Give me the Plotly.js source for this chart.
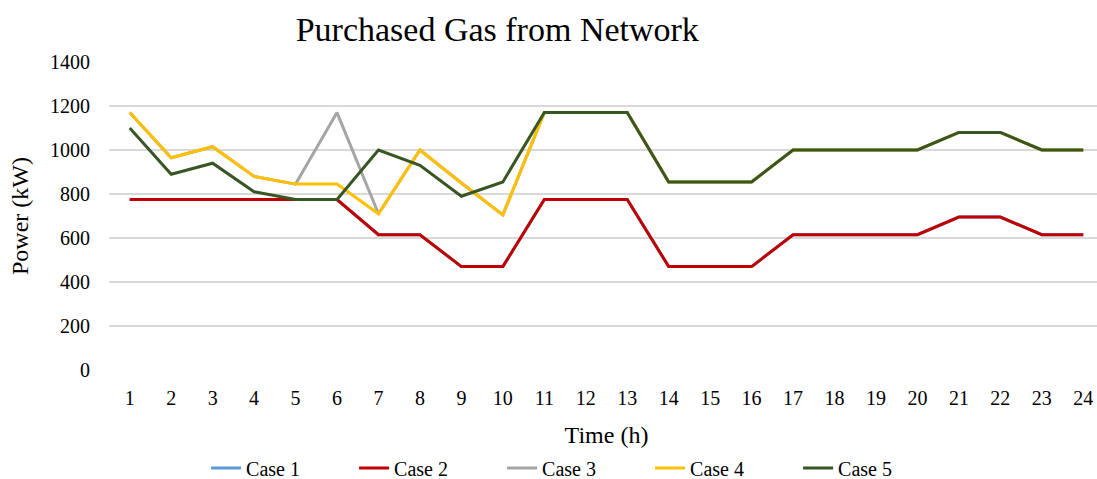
<!DOCTYPE html>
<html>
<head>
<meta charset="utf-8">
<script src="https://cdn.plot.ly/plotly-3.0.1.min.js"></script>
<style>
html,body{margin:0;padding:0;overflow:hidden;background:#fff;}
#chart{width:1110px;height:479px;}
</style>
</head>
<body>
<div id="chart"></div>
<script>
const hours = [1,2,3,4,5,6,7,8,9,10,11,12,13,14,15,16,17,18,19,20,21,22,23,24];
const seriesNames = ["Case 1","Case 2","Case 3","Case 4","Case 5"];
const seriesColors = ["#5B9BD5","#C00000","#A5A5A5","#FFC000","#375623"];
const case1 = [775,775,775,775,775,775,615,615,470,470,775,775,775,470,470,470,615,615,615,615,695,695,615,615];
const case2 = [775,775,775,775,775,775,615,615,470,470,775,775,775,470,470,470,615,615,615,615,695,695,615,615];
const case3 = [1170,965,1015,880,845,1170,710,1000,850,705,1170,1170,1170,855,855,855,1000,1000,1000,1000,1080,1080,1000,1000];
const case4 = [1170,965,1015,880,845,845,710,1000,850,705,1170,1170,1170,855,855,855,1000,1000,1000,1000,1080,1080,1000,1000];
const case5 = [1100,890,940,810,775,775,1000,930,790,855,1170,1170,1170,855,855,855,1000,1000,1000,1000,1080,1080,1000,1000];
const yTicks = [0,200,400,600,800,1000,1200,1400];

const allSeries = [case1,case2,case3,case4,case5];
const traces = allSeries.map((vals,i)=>({
  x: hours, y: vals, type:'scatter', mode:'lines', name: seriesNames[i],
  line:{color: seriesColors[i], width:3}
}));

const serif = "Liberation Serif, Times New Roman, serif";
const layout = {
  width:1110, height:479,
  margin:{l:109, r:6, t:62, b:109},
  paper_bgcolor:'#fff', plot_bgcolor:'#fff',
  font:{family:serif, color:'#000'},
  title:{text:'Purchased Gas from Network', font:{family:serif, size:34, color:'#000'},
         x:0.448, xref:'container', xanchor:'center', y:0.94, yref:'container', yanchor:'middle'},
  xaxis:{range:[0.5,24.5], tickvals:hours, ticktext:hours.map(String),
         showgrid:false, zeroline:false, showline:false, ticks:'',
         ticklabelstandoff:14, tickfont:{family:serif, size:20, color:'#000'},
         title:{text:'Time (h)', font:{family:serif, size:24, color:'#000'}, standoff:20}},
  yaxis:{range:[0,1400], tickvals:yTicks, showgrid:true, gridcolor:'#D9D9D9', gridwidth:1.5,
         zeroline:false, showline:false, ticks:'', ticklabelstandoff:18,
         tickfont:{family:serif, size:20, color:'#000'},
         title:{text:'Power (kW)', font:{family:serif, size:24, color:'#000'}, standoff:14}},
  showlegend:true,
  legend:{orientation:'h', xref:'container', yref:'container', x:0.519, xanchor:'center',
          y:0.023, yanchor:'middle', font:{family:serif, size:20, color:'#000'},
          entrywidth:103, entrywidthmode:'pixels', bgcolor:'rgba(0,0,0,0)'}
};
Plotly.newPlot('chart', traces, layout, {displayModeBar:false, staticPlot:true});
</script>
</body>
</html>
